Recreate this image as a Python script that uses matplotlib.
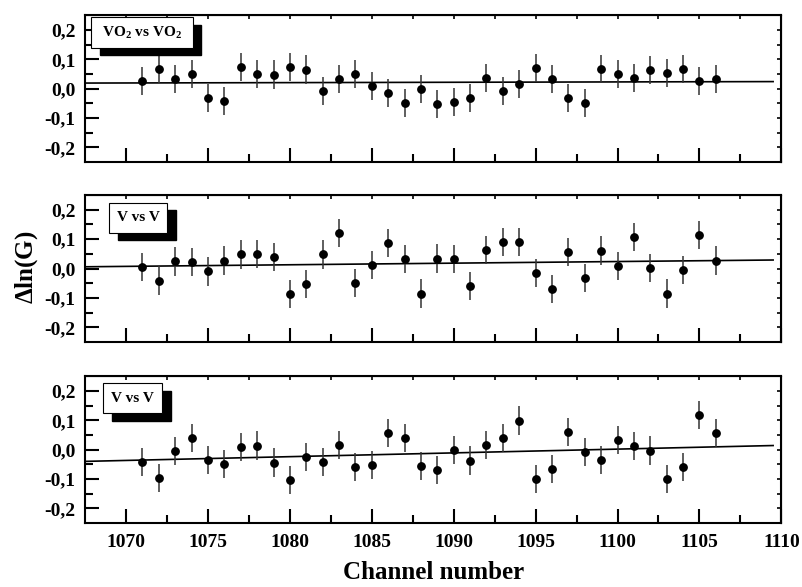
import matplotlib
matplotlib.use("Agg")
import matplotlib.pyplot as plt
from matplotlib.patches import Rectangle

plt.rcParams['font.family'] = ['Liberation Serif', 'DejaVu Serif']
plt.rcParams['font.weight'] = 'bold'
plt.rcParams['mathtext.fontset'] = 'custom'
plt.rcParams['mathtext.rm'] = 'Liberation Serif:bold'
plt.rcParams['mathtext.bf'] = 'Liberation Serif:bold'

channels = list(range(1071, 1107))

vo2_vals = [0.025, 0.066, 0.032, 0.050, -0.033, -0.042, 0.073, 0.051, 0.048, 0.073,
            0.065, -0.007, 0.033, 0.049, 0.008, -0.016, -0.049, -0.001, -0.051, -0.045,
            -0.032, 0.035, -0.007, 0.017, 0.069, 0.033, -0.031, -0.048, 0.068, 0.050,
            0.037, 0.064, 0.053, 0.066, 0.026, 0.033]
v1_vals = [0.005, -0.041, 0.024, 0.022, -0.010, 0.027, 0.048, 0.049, 0.038, -0.087,
           -0.053, 0.048, 0.121, -0.050, 0.013, 0.087, 0.033, -0.085, 0.034, 0.032,
           -0.059, 0.063, 0.089, 0.091, -0.016, -0.070, 0.057, -0.033, 0.061, 0.008,
           0.106, 0.001, -0.085, -0.006, 0.115, 0.027]
v2_vals = [-0.042, -0.097, -0.006, 0.040, -0.034, -0.049, 0.009, 0.014, -0.044, -0.103,
           -0.025, -0.042, 0.016, -0.058, -0.052, 0.058, 0.039, -0.055, -0.070, -0.002,
           -0.037, 0.017, 0.041, 0.099, -0.101, -0.067, 0.060, -0.009, -0.035, 0.033,
           0.012, -0.003, -0.101, -0.060, 0.118, 0.057]
err = 0.048

# straight fit lines, read at both ends
fit_x = [1067.5, 1109.5]
vo2_fit = [0.019, 0.024]
v1_fit = [0.006, 0.029]
v2_fit = [-0.040, 0.014]

labels = [r'VO$_\mathbf{2}$ vs VO$_\mathbf{2}$', 'V vs V', 'V vs V']
# label box in axes fraction: x0, y0, x1, y1
boxes = [(0.009, 0.776, 0.155, 0.986), (0.035, 0.741, 0.118, 0.946), (0.026, 0.748, 0.111, 0.952)]

fig = plt.figure(figsize=(8.03, 5.87), dpi=100)
panels = [(0.724, 0.974), (0.417, 0.668), (0.109, 0.359)]
series = [(vo2_vals, vo2_fit), (v1_vals, v1_fit), (v2_vals, v2_fit)]

for i, ((b, t), (vals, fit)) in enumerate(zip(panels, series)):
    ax = fig.add_axes([0.106, b, 0.867, t - b])
    ax.errorbar(channels, vals, yerr=err, fmt='o', color='black', ms=5.3,
                ecolor='#333333', elinewidth=1.1, capsize=0, zorder=3)
    ax.plot(fit_x, fit, color='black', lw=1.2, zorder=2)
    ax.set_xlim(1067.5, 1110)
    ax.set_ylim(-0.25, 0.25)
    ax.set_yticks([-0.2, -0.1, 0.0, 0.1, 0.2])
    ax.set_yticks([-0.15, -0.05, 0.05, 0.15], minor=True)
    ax.set_yticklabels(['-0,2', '-0,1', '0,0', '0,1', '0,2'], fontsize=14, fontweight='bold')
    ax.set_xticks(range(1070, 1111, 5))
    ax.set_xticks([1072.5 + 5 * k for k in range(8)], minor=True)
    if i == 2:
        ax.set_xticklabels([str(v) for v in range(1070, 1111, 5)], fontsize=14, fontweight='bold')
    else:
        ax.set_xticklabels([])
    ax.tick_params(which='major', direction='in', length=10, width=1.5, pad=8)
    ax.tick_params(which='minor', direction='in', length=6, width=1.5)
    ax.tick_params(axis='y', which='major', pad=7)
    for s in ax.spines.values():
        s.set_linewidth(1.5)

    sx = ax.secondary_xaxis('top')
    sx.set_xticks([1070 + 2.5 * k for k in range(17)])
    sx.set_xticklabels([])
    sx.tick_params(direction='in', length=3, width=1.2)
    sy = ax.secondary_yaxis('right')
    sy.set_yticks([-0.2 + 0.05 * k for k in range(9)])
    sy.set_yticklabels([])
    sy.tick_params(direction='in', length=3, width=1.2)

    x0, y0, x1, y1 = boxes[i]
    dx, dy = 0.012, 0.05
    ax.add_patch(Rectangle((x0 + dx, y0 - dy), x1 - x0, y1 - y0, transform=ax.transAxes,
                           facecolor='black', edgecolor='black', zorder=4))
    ax.add_patch(Rectangle((x0, y0), x1 - x0, y1 - y0, transform=ax.transAxes,
                           facecolor='white', edgecolor='black', lw=0.8, zorder=5))
    ax.text((x0 + x1) / 2, (y0 + y1) / 2, labels[i], transform=ax.transAxes,
            ha='center', va='center', fontsize=11, fontweight='bold', zorder=6)

fig.text(0.54, 0.025, 'Channel number', ha='center', va='center', fontsize=18, fontweight='bold')
fig.text(0.033, 0.545, r'$\mathbf{\Delta}$ln(G)', ha='center', va='center', rotation=90,
         fontsize=18, fontweight='bold')

fig.savefig('out.png', dpi=100)
